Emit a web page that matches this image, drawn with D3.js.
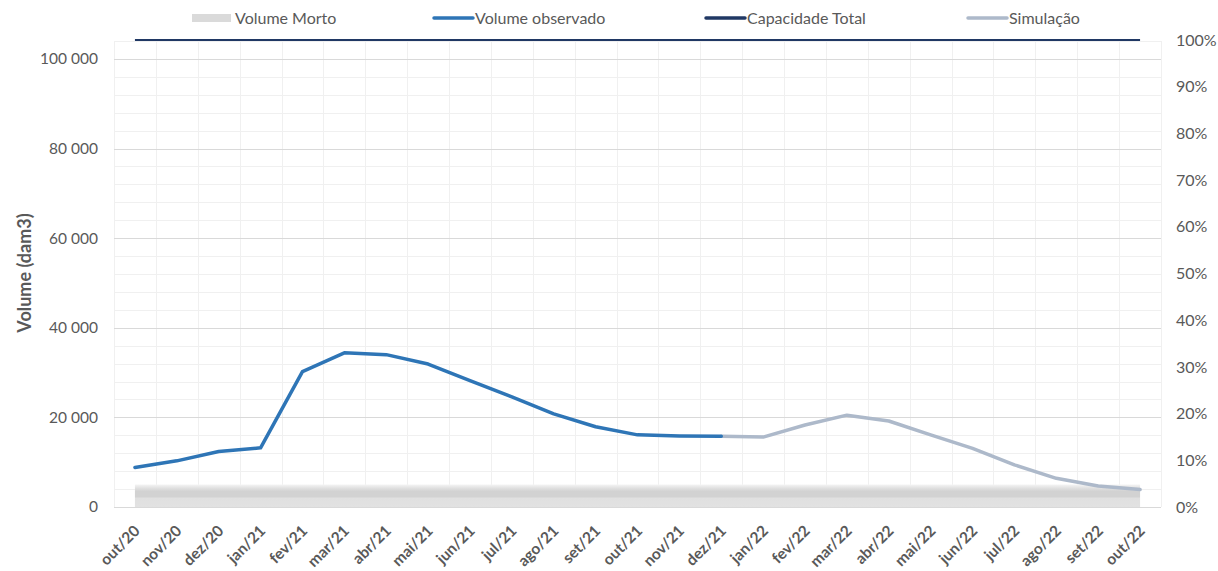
<!DOCTYPE html>
<html>
<head>
<meta charset="utf-8">
<script src="https://cdn.jsdelivr.net/npm/d3@7"></script>
<style>
  html, body { margin: 0; padding: 0; background: #fff; }
  svg { display: block; font-family: Lato, "Open Sans", sans-serif; }
</style>
</head>
<body>
<svg id="chart" width="1218" height="571"></svg>
<script>
// Monthly categories
const months = ["out/20","nov/20","dez/20","jan/21","fev/21","mar/21","abr/21","mai/21","jun/21",
  "jul/21","ago/21","set/21","out/21","nov/21","dez/21","jan/22","fev/22","mar/22","abr/22",
  "mai/22","jun/22","jul/22","ago/22","set/22","out/22"];

// Observed storage (dam3), out/20 .. dez/21
const observed = [8800, 10300, 12400, 13200, 30200, 34400, 34000, 31900, 28200,
  24600, 20800, 17900, 16100, 15850, 15800];

// Simulated storage (dam3), continues from dez/21 to out/22
const simulated = [null, null, null, null, null, null, null, null, null, null, null, null, null, null,
  15800, 15600, 18300, 20500, 19200, 16100, 13100, 9400, 6400, 4700, 3900];

// Reservoir capacity and dead storage (dam3)
const capacity = 104200;
const deadVolume = 5000;

// Axis ticks
const leftTicks = [0, 20000, 40000, 60000, 80000, 100000];
const minorTicks = d3.range(0, 104001, 4000);
const rightTicks = [0, 0.1, 0.2, 0.3, 0.4, 0.5, 0.6, 0.7, 0.8, 0.9, 1.0];

const legendItems = [
  { label: "Volume Morto", key: "dead" },
  { label: "Volume observado", key: "obs" },
  { label: "Capacidade Total", key: "cap" },
  { label: "Simulação", key: "sim" }
];

const colors = { obs: "#2e75b6", sim: "#adb9ca", cap: "#203864", dead: "#d4d4d4" };
const textColor = "#595959";

const svg = d3.select("#chart");
const plotLeft = 114, plotRight = 1161, plotTop = 41, plotBottom = 507;

const x = d3.scaleBand().domain(months).range([plotLeft, plotRight]).padding(0);
const cx = m => x(m) + x.bandwidth() / 2;
const y = d3.scaleLinear().domain([0, 104000]).range([plotBottom, plotTop]);
const yPct = d3.scaleLinear().domain([0, 1]).range([plotBottom, y(capacity)]);

const defs = svg.append("defs");
const grad = defs.append("linearGradient").attr("id", "deadGrad")
  .attr("x1", 0).attr("y1", 0).attr("x2", 0).attr("y2", 1);
grad.append("stop").attr("offset", "0%").attr("stop-color", "#f4f4f4");
grad.append("stop").attr("offset", "18%").attr("stop-color", "#dedede");
grad.append("stop").attr("offset", "30%").attr("stop-color", "#d2d2d2");
grad.append("stop").attr("offset", "55%").attr("stop-color", "#d2d2d2");
grad.append("stop").attr("offset", "60%").attr("stop-color", "#e0e0e0");
grad.append("stop").attr("offset", "100%").attr("stop-color", "#e2e2e2");

// Gridlines
const grid = svg.append("g");
grid.selectAll("line.minor").data(minorTicks).join("line")
  .attr("x1", plotLeft).attr("x2", plotRight)
  .attr("y1", d => Math.round(y(d)) + 0.5).attr("y2", d => Math.round(y(d)) + 0.5)
  .attr("stroke", "#f0f0f0").attr("stroke-width", 1);
grid.selectAll("line.vert").data(d3.range(months.length + 1)).join("line")
  .attr("x1", i => Math.round(plotLeft + i * x.bandwidth()) + 0.5)
  .attr("x2", i => Math.round(plotLeft + i * x.bandwidth()) + 0.5)
  .attr("y1", plotTop).attr("y2", plotBottom)
  .attr("stroke", "#f0f0f0").attr("stroke-width", 1);
grid.selectAll("line.major").data(leftTicks.slice(1)).join("line")
  .attr("x1", plotLeft).attr("x2", plotRight)
  .attr("y1", d => Math.round(y(d)) + 0.5).attr("y2", d => Math.round(y(d)) + 0.5)
  .attr("stroke", "#d9d9d9").attr("stroke-width", 1);

// Dead storage band
const area = d3.area().x(d => cx(d)).y0(y(0)).y1(y(deadVolume));
svg.append("path").datum(months).attr("d", area).attr("fill", "url(#deadGrad)");

// Category axis baseline
svg.append("line").attr("x1", plotLeft).attr("x2", plotRight)
  .attr("y1", plotBottom + 0.5).attr("y2", plotBottom + 0.5)
  .attr("stroke", "#d9d9d9").attr("stroke-width", 1);

// Capacity line
svg.append("line")
  .attr("x1", cx(months[0])).attr("x2", cx(months[months.length - 1]))
  .attr("y1", y(capacity)).attr("y2", y(capacity))
  .attr("stroke", colors.cap).attr("stroke-width", 2);

// Simulated and observed series
const line = d3.line().defined(d => d[1] != null).x(d => cx(d[0])).y(d => y(d[1]));
svg.append("path").datum(months.map((m, i) => [m, simulated[i]]))
  .attr("d", line).attr("fill", "none").attr("stroke", colors.sim)
  .attr("stroke-width", 3.5).attr("stroke-linejoin", "round").attr("stroke-linecap", "round");
svg.append("path").datum(observed.map((v, i) => [months[i], v]))
  .attr("d", line).attr("fill", "none").attr("stroke", colors.obs)
  .attr("stroke-width", 3.5).attr("stroke-linejoin", "round").attr("stroke-linecap", "round");

// Left axis labels
const fmt = v => d3.format(",")(v).replace(/,/g, " ");
svg.append("g").selectAll("text").data(leftTicks).join("text")
  .attr("x", 98).attr("y", d => y(d)).attr("dy", "0.35em")
  .attr("text-anchor", "end").attr("fill", textColor).attr("font-size", 15.5)
  .text(fmt);

// Right axis labels
svg.append("g").selectAll("text").data(rightTicks).join("text")
  .attr("x", 1176).attr("y", d => yPct(d)).attr("dy", "0.35em")
  .attr("text-anchor", "start").attr("fill", textColor).attr("font-size", 16)
  .text(d3.format(".0%"));

// Category labels
svg.append("g").selectAll("text").data(months).join("text")
  .attr("transform", d => `translate(${cx(d) + 2},${plotBottom + 21}) rotate(-45)`)
  .attr("text-anchor", "end").attr("dy", "0.35em")
  .attr("fill", textColor).attr("font-size", 15.5).attr("font-weight", "bold").text(d => d);

// Axis title
svg.append("text")
  .attr("transform", `translate(25,273) rotate(-90)`)
  .attr("text-anchor", "middle").attr("dy", "0.35em")
  .attr("fill", textColor).attr("font-size", 18).attr("font-weight", "bold")
  .text("Volume (dam3)");

// Legend
const legendX = [192, 434, 706, 968];
const lg = svg.append("g").selectAll("g").data(legendItems).join("g")
  .attr("transform", (d, i) => `translate(${legendX[i]},18)`);
lg.append("line").attr("x1", 0).attr("x2", 39).attr("y1", 0).attr("y2", 0)
  .attr("stroke", d => d.key === "dead" ? "#dadada" : colors[d.key])
  .attr("stroke-width", d => d.key === "dead" ? 8 : 3.5)
  .attr("stroke-linecap", d => d.key === "dead" ? "butt" : "round");
lg.append("text").attr("x", d => d.key === "dead" ? 43 : 41).attr("y", 0).attr("dy", "0.35em")
  .attr("fill", textColor).attr("font-size", 16).text(d => d.label);
</script>
</body>
</html>
